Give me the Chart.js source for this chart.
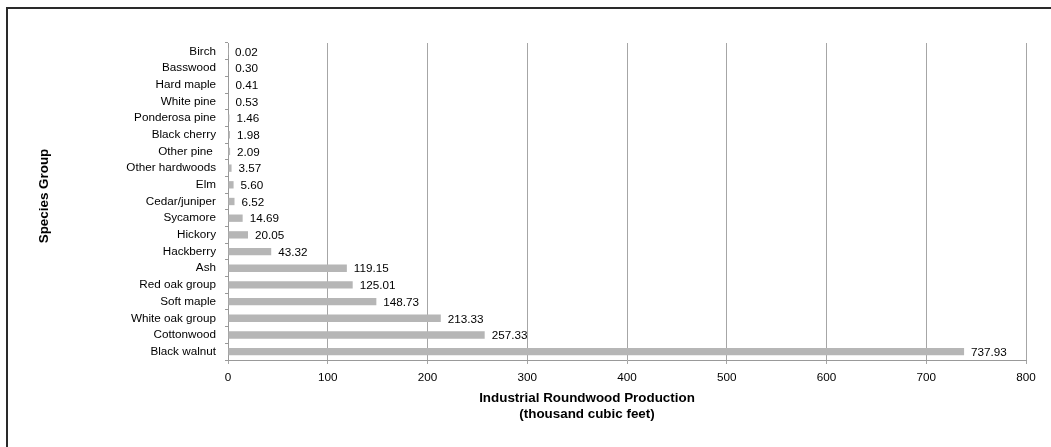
<!DOCTYPE html>
<html lang="en">
<head>
<meta charset="UTF-8">
<title>Industrial Roundwood Production by Species Group</title>
<script src="https://cdn.jsdelivr.net/npm/chart.js"></script>
<style>
    body {
      margin: 0;
      background: #fff;
      font-family: "Liberation Sans", Arial, sans-serif;
    }
    #frame {
      position: absolute;
      left: 6px;
      top: 7px;
      width: 1045px;
      height: 440px;
      border-top: 2px solid #2a2a2a;
      border-left: 2px solid #2a2a2a;
    }
    #wrap {
      position: absolute;
      left: 0;
      top: 0;
      width: 1051px;
      height: 447px;
    }
</style>
</head>
<body>
<div id="frame"></div>
<div id="wrap"><canvas id="woodChart" width="1051" height="447"></canvas></div>

<script>
    const species = ['Birch', 'Basswood', 'Hard maple', 'White pine', 'Ponderosa pine', 'Black cherry',
      'Other pine ', 'Other hardwoods', 'Elm', 'Cedar/juniper', 'Sycamore', 'Hickory', 'Hackberry',
      'Ash', 'Red oak group', 'Soft maple', 'White oak group', 'Cottonwood', 'Black walnut'];
    const production = [0.02, 0.30, 0.41, 0.53, 1.46, 1.98, 2.09, 3.57, 5.60, 6.52, 14.69, 20.05, 43.32,
      119.15, 125.01, 148.73, 213.33, 257.33, 737.93];
    const xTicks = [0, 100, 200, 300, 400, 500, 600, 700, 800];

    const family = '"Liberation Sans", Arial, sans-serif';
    const font = { family: family, size: 11.7 };

    // value labels next to bars + axis titles
    const labelPlugin = {
      id: 'labelPlugin',
      afterDatasetsDraw(chart) {
        const ctx = chart.ctx;
        const meta = chart.getDatasetMeta(0);
        ctx.save();
        ctx.font = '11.7px ' + family;
        ctx.fillStyle = '#000';
        ctx.textBaseline = 'middle';
        ctx.textAlign = 'left';
        meta.data.forEach((bar, i) => {
          ctx.fillText(production[i].toFixed(2), bar.x + 7, bar.y + 1);
        });
        ctx.restore();
      },
      afterDraw(chart) {
        const ctx = chart.ctx;
        ctx.save();
        ctx.font = 'bold 13.4px ' + family;
        ctx.fillStyle = '#000';
        ctx.textAlign = 'center';
        ctx.textBaseline = 'middle';
        ctx.fillText('Industrial Roundwood Production', 587, 398);
        ctx.fillText('(thousand cubic feet)', 587, 414);
        ctx.translate(44, 196);
        ctx.rotate(-Math.PI / 2);
        ctx.fillText('Species Group', 0, 0);
        ctx.restore();
      }
    };

    new Chart(document.getElementById('woodChart'), {
      type: 'bar',
      data: {
        labels: species,
        datasets: [{
          data: production,
          backgroundColor: '#b6b6b6',
          barPercentage: 0.44,
          categoryPercentage: 1
        }]
      },
      options: {
        indexAxis: 'y',
        responsive: false,
        animation: false,
        layout: { padding: { top: 43, right: 25, left: 0, bottom: 0 } },
        plugins: { legend: { display: false }, tooltip: { enabled: false } },
        scales: {
          x: {
            min: 0,
            max: 800,
            afterFit(scale) { scale.height = 87; },
            afterBuildTicks(scale) { scale.ticks = xTicks.map(v => ({ value: v })); },
            grid: { color: '#a6a6a6', tickLength: 4, drawTicks: true },
            border: { color: '#999' },
            ticks: { font: font, color: '#000', padding: 7 }
          },
          y: {
            afterFit(scale) { scale.width = 228; },
            grid: { drawOnChartArea: false, drawTicks: true, tickLength: 3, color: '#999' },
            border: { color: '#999' },
            ticks: { font: font, color: '#000', padding: 9, autoSkip: false }
          }
        }
      },
      plugins: [labelPlugin]
    });
</script>
</body>
</html>
